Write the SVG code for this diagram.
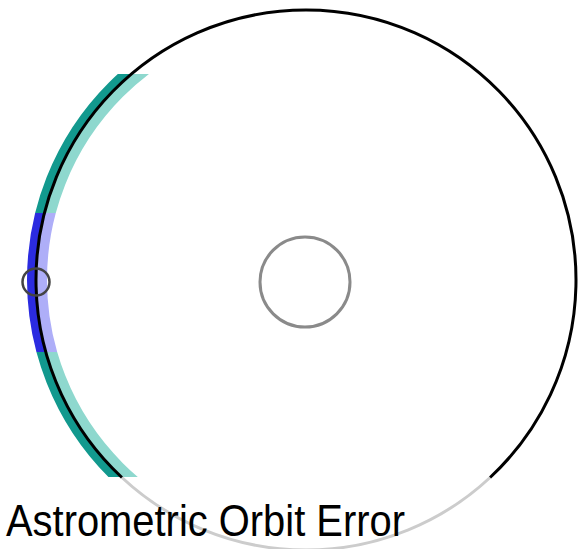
<svg xmlns="http://www.w3.org/2000/svg" width="581" height="549" viewBox="0 0 581 549">
  <style>
    .dark { fill: none; stroke-width: 9; }
    .light { fill: none; stroke-width: 11; }
    .teal-d { stroke: #12998e; }
    .teal-l { stroke: #8ed8ce; }
    .blue-d { stroke: #2b2be0; }
    .blue-l { stroke: #aeaef8; }
    .label { font-family: "Liberation Sans", Arial, sans-serif; font-size: 45px; fill: #000; }
  </style>
  <defs>
    <clipPath id="clipUpper"><rect x="0" y="74" width="306" height="139"/></clipPath>
    <clipPath id="clipBlue"><rect x="0" y="213" width="306" height="139"/></clipPath>
    <clipPath id="clipLower"><rect x="0" y="352" width="306" height="125"/></clipPath>
  </defs>
  <rect width="581" height="549" fill="#fff"/>
  <g id="bands">
    <g clip-path="url(#clipUpper)">
      <circle class="dark teal-d" cx="306" cy="280" r="274.5"/>
      <circle class="light teal-l" cx="306" cy="280" r="264.5"/>
    </g>
    <g clip-path="url(#clipBlue)">
      <circle class="dark blue-d" cx="306" cy="280" r="274.5"/>
      <circle class="light blue-l" cx="306" cy="280" r="264.5"/>
    </g>
    <g clip-path="url(#clipLower)">
      <circle class="dark teal-d" cx="306" cy="280" r="274.5"/>
      <circle class="light teal-l" cx="306" cy="280" r="264.5"/>
    </g>
  </g>
  <g id="orbit">
    <path d="M121.9,477.5 A270,270 0 0 0 490.1,477.5" fill="none" stroke="#cccccc" stroke-width="3"/>
    <path d="M490.1,477.5 A270,270 0 1 0 121.9,477.5" fill="none" stroke="#000" stroke-width="3"/>
  </g>
  <g id="star">
    <circle cx="305" cy="282" r="45" fill="none" stroke="#8a8a8a" stroke-width="3"/>
  </g>
  <g id="planet">
    <circle cx="36" cy="282" r="13.5" fill="none" stroke="#444" stroke-width="2.5"/>
  </g>
  <g id="title">
    <text class="label" x="6" y="536" textLength="399" lengthAdjust="spacingAndGlyphs">Astrometric Orbit Error</text>
  </g>
</svg>
